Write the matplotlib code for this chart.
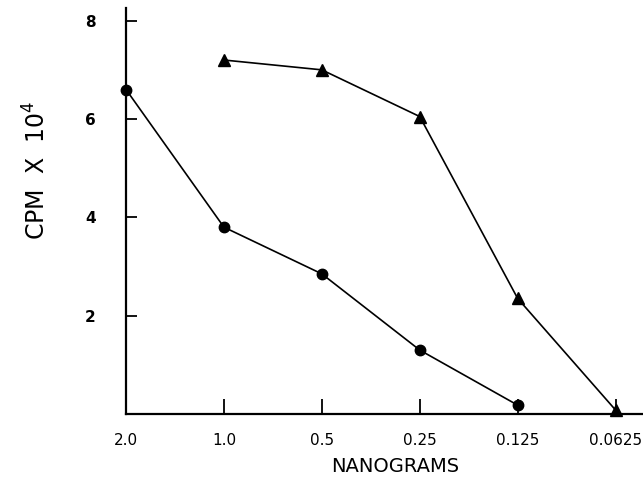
import matplotlib
matplotlib.use("Agg")
from matplotlib import pyplot as plt
import numpy as np

# x axis is categorical (twofold dilution series)
doses = ['2.0', '1.0', '0.5', '0.25', '0.125', '0.0625']
circle_cpm = [6.6, 3.8, 2.85, 1.3, 0.18]           # 2.0 .. 0.125
triangle_cpm = [7.2, 7.0, 6.05, 2.35, 0.08]        # 1.0 .. 0.0625

pos = np.arange(len(doses))

fig = plt.figure(figsize=(6.43, 4.8), dpi=100)
ax = fig.add_axes([0.196, 0.1375, 0.804, 0.845])

ax.plot(pos[:5], circle_cpm, '-', color='black', lw=1.2,
        marker='o', markersize=7.5, clip_on=False)
ax.plot(pos[1:], triangle_cpm, '-', color='black', lw=1.2,
        marker='^', markersize=8, clip_on=False)

ax.set_xlim(0, 5.28)
ax.set_ylim(0, 8.25)
ax.set_xticks(pos)
ax.set_xticklabels(doses, fontsize=11)
ax.set_yticks([2, 4, 6, 8])
ax.set_yticklabels(['2', '4', '6', '8'], fontsize=11, fontweight='bold')
ax.tick_params(axis='x', direction='in', length=11, width=1.3, pad=14)
ax.tick_params(axis='y', direction='in', length=8, width=1.3, pad=22)

for s in ['top', 'right']:
    ax.spines[s].set_visible(False)
for s in ['left', 'bottom']:
    ax.spines[s].set_linewidth(1.6)

ax.set_xlabel('NANOGRAMS', fontsize=14)
ax.xaxis.set_label_coords(0.52, -0.105)
ax.set_ylabel(r'CPM  X  10$^4$', fontsize=17)
ax.yaxis.set_label_coords(-0.145, 0.60)

fig.savefig('out.png', dpi=100)
